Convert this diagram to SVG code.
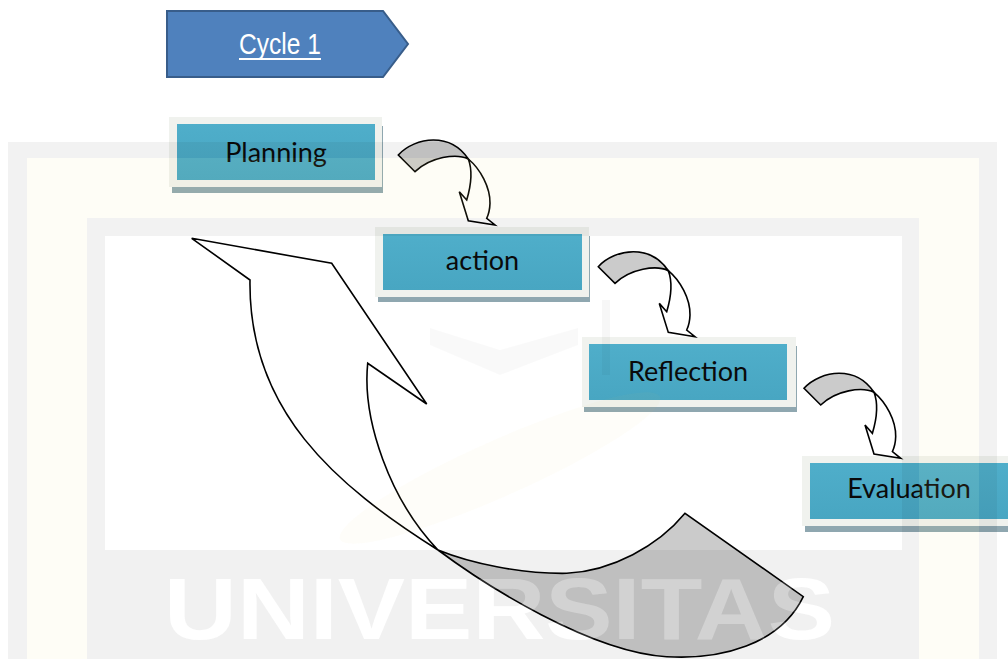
<svg xmlns="http://www.w3.org/2000/svg" xmlns:xlink="http://www.w3.org/1999/xlink" width="1008" height="659" viewBox="0 0 1008 659">
<style>
  .frame { fill: #F0F2EE; }
  .shadow { fill: #8FA7B0; }
  .teal { fill: url(#tealGrad); }
  .label { font-family: "Lato", "Liberation Sans", sans-serif; font-size: 27px; fill: #0a0a0a; text-anchor: middle; }
  .arrow-line { stroke: #000; stroke-width: 1.6; stroke-linejoin: miter; }
  .back { fill: #CBCBCB; }
  .front { fill: #FFFFFF; }
  .wm-gray { fill: #000; opacity: 0.05; }
  .wm-cream { fill: #EEDC7A; opacity: 0.07; }
  .wm-text { font-family: "Liberation Sans", Arial, sans-serif; font-weight: bold; font-size: 88px; }
</style>
<defs>
  <linearGradient id="tealGrad" x1="0" y1="0" x2="0" y2="1">
    <stop offset="0" stop-color="#4FAECA"/>
    <stop offset="1" stop-color="#48A6C2"/>
  </linearGradient>
  <g id="curvedArrow">
    <path class="back arrow-line" d="M0,0 C8,-9 22,-15 35,-15 C50,-15 62,-8 70,4 C58,-2 32,2 16.7,16.7 Z"/>
    <path class="front arrow-line" d="M70,4 C82,14 92,32 91.7,48.3 C91.5,55 90,60 88.4,63.3 L96.7,70 L70,65.7 L61,36.7 L68.4,45 C72,33 75,17 70,4 Z"/>
  </g>
  <mask id="letterMask" maskUnits="userSpaceOnUse" x="0" y="0" width="1008" height="659">
    <rect x="0" y="0" width="1008" height="659" fill="#fff"/>
    <text class="wm-text" x="164" y="639" textLength="671" lengthAdjust="spacingAndGlyphs" fill="#000">UNIVERSITAS</text>
  </mask>
</defs>

<rect x="0" y="0" width="1008" height="659" fill="#FFFFFF"/>

<g id="node-cycle1">
  <polygon points="167,11 383,11 408,44 383,77 167,77" fill="#4F81BD" stroke="#385D8A" stroke-width="2"/>
  <text x="280" y="53.5" font-family="Liberation Sans, Arial, sans-serif" font-size="30" fill="#FFFFFF" text-anchor="middle" textLength="82" lengthAdjust="spacingAndGlyphs">Cycle 1</text>
  <rect x="239" y="58" width="82" height="2" fill="#FFFFFF"/>
</g>

<g id="node-planning">
  <rect class="shadow" x="172" y="126" width="211" height="67"/>
  <rect class="frame" x="169" y="117" width="213" height="70"/>
  <rect class="teal" x="177" y="124" width="198" height="56"/>
  <text class="label" x="276" y="162">Planning</text>
</g>

<g id="node-action">
  <rect class="shadow" x="378" y="236" width="212" height="66"/>
  <rect class="frame" x="375" y="227" width="214" height="70"/>
  <rect class="teal" x="383" y="234" width="199" height="56"/>
  <text class="label" x="482.5" y="270">action</text>
</g>

<g id="node-reflection">
  <rect class="shadow" x="584" y="346" width="213" height="66"/>
  <rect class="frame" x="582" y="337" width="214" height="70"/>
  <rect class="teal" x="589" y="344" width="198" height="56"/>
  <text class="label" x="688" y="381">Reflection</text>
</g>

<g id="node-evaluation">
  <rect class="shadow" x="805" y="465" width="203" height="67"/>
  <rect class="frame" x="802" y="456" width="206" height="70"/>
  <rect class="teal" x="810" y="463" width="198" height="56"/>
  <text class="label" x="909" y="498">Evaluation</text>
</g>

<g id="connectors">
  <use xlink:href="#curvedArrow" href="#curvedArrow" transform="translate(398.3,155)"/>
  <use xlink:href="#curvedArrow" href="#curvedArrow" transform="translate(598.3,266.7)"/>
  <use xlink:href="#curvedArrow" href="#curvedArrow" transform="translate(804,388.3)"/>
  <g id="return-arrow">
    <path class="back arrow-line" d="M438,550 C470,563 520,574 566.7,573.3 C612,571 658,546 685,513.3 L803.3,596.7 C780,645 720,660 666.7,656.7 C590,652 485,585 438,550 Z"/>
    <path class="front arrow-line" d="M191.7,238.3 L331.7,263.3 L426.7,404 L367.7,363.3 C362,420 390,500 438,550 C335,485 248,410 250,280 Z"/>
  </g>
</g>

<g id="watermark">
  <rect class="wm-gray" x="8" y="142" width="989" height="16"/>
  <rect class="wm-gray" x="8" y="158" width="19" height="501"/>
  <rect class="wm-gray" x="979" y="158" width="18" height="501"/>
  <rect class="wm-cream" x="27" y="158" width="952" height="60"/>
  <rect class="wm-cream" x="27" y="218" width="60" height="441"/>
  <rect class="wm-cream" x="919" y="218" width="60" height="441"/>
  <rect class="wm-gray" x="87" y="218" width="832" height="18"/>
  <rect class="wm-gray" x="87" y="236" width="18" height="314"/>
  <rect class="wm-gray" x="902" y="236" width="17" height="314"/>
  <rect class="wm-gray" x="87" y="550" width="832" height="109" mask="url(#letterMask)"/>
  <polygon class="wm-gray" style="opacity:0.025" points="430,328 500,350 578,328 578,345 500,375 430,345"/>
  <rect class="wm-gray" style="opacity:0.03" x="602" y="300" width="8" height="75"/>
  <ellipse class="wm-cream" style="opacity:0.045" cx="500" cy="468" rx="175" ry="28" transform="rotate(-24 500 468)"/>
  <text class="wm-text" x="164" y="639" textLength="671" lengthAdjust="spacingAndGlyphs" fill="#FFFFFF" opacity="0.15">UNIVERSITAS</text>
</g>
</svg>
